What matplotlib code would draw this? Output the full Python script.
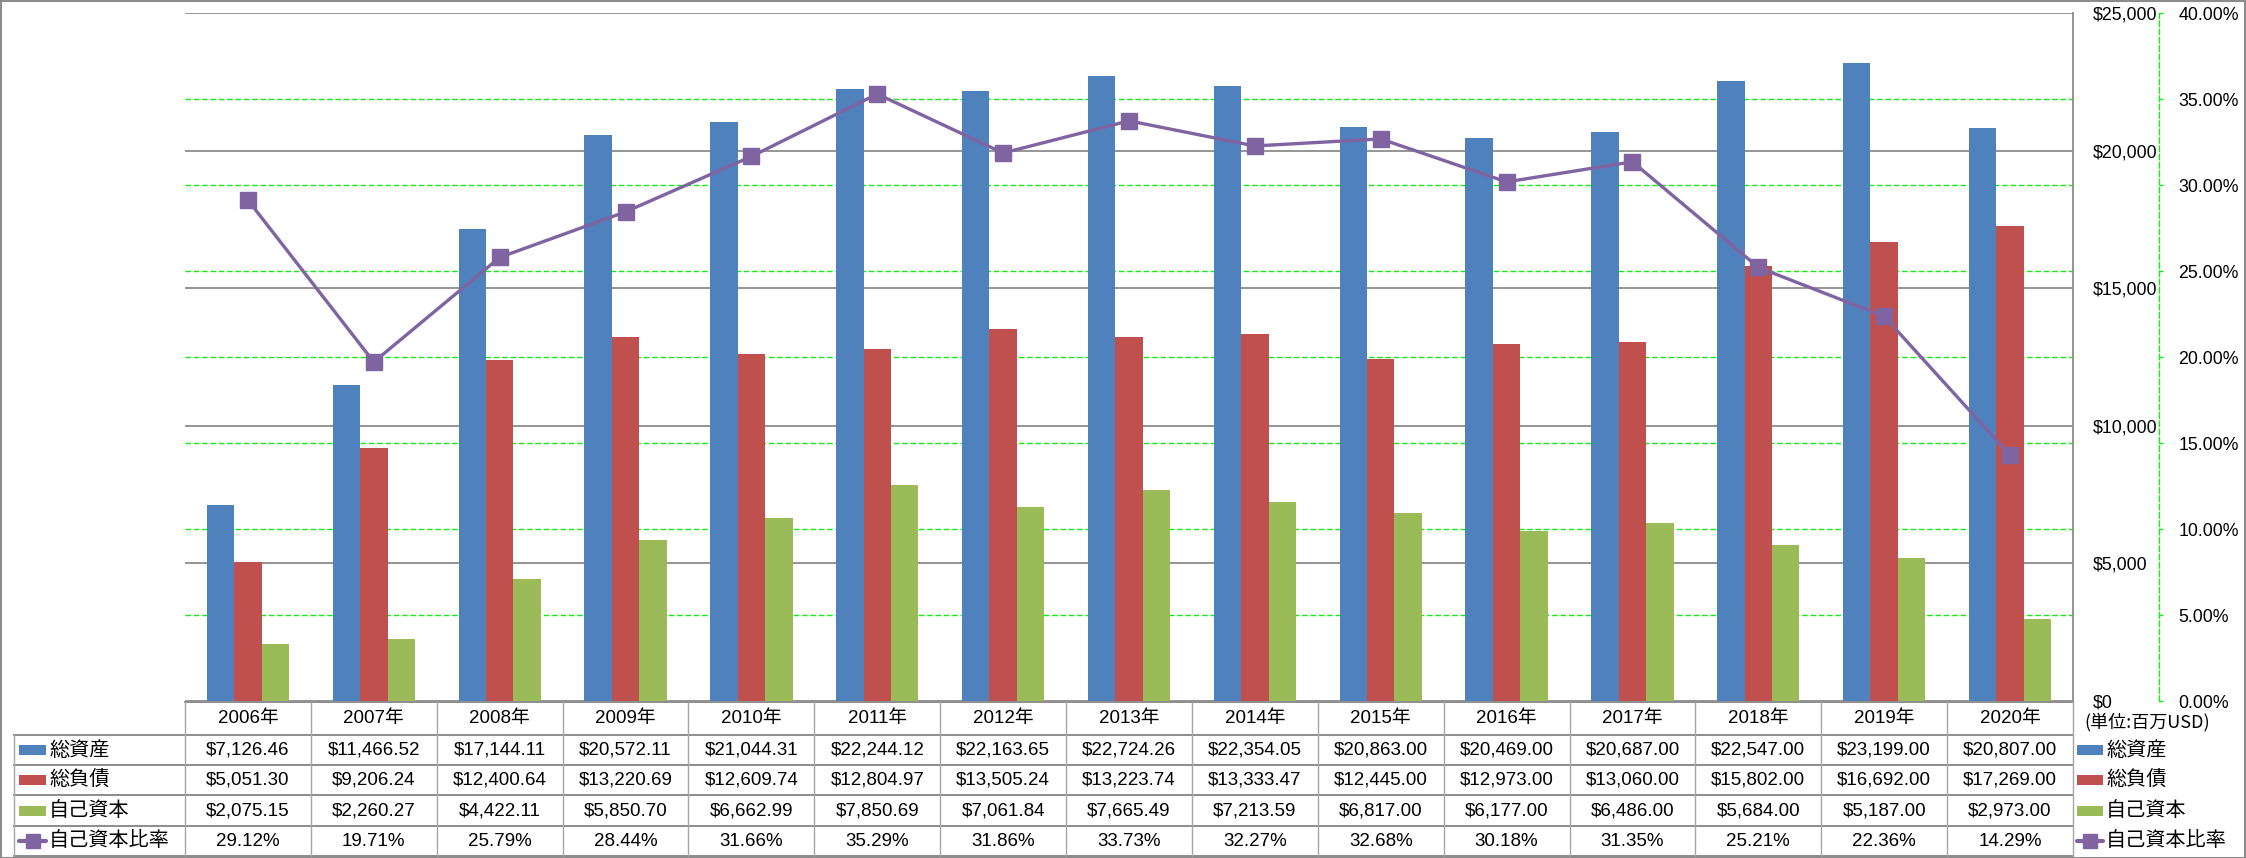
import matplotlib
matplotlib.use("Agg")
import matplotlib.pyplot as plt
import matplotlib.transforms as mtransforms
from matplotlib.lines import Line2D
from matplotlib.patches import Rectangle
from matplotlib.ticker import FuncFormatter
import numpy as np

# ---------------- data ----------------
years = ["2006年", "2007年", "2008年", "2009年", "2010年", "2011年", "2012年", "2013年",
         "2014年", "2015年", "2016年", "2017年", "2018年", "2019年", "2020年"]
total_assets = [7126.46, 11466.52, 17144.11, 20572.11, 21044.31, 22244.12, 22163.65, 22724.26,
                22354.05, 20863.00, 20469.00, 20687.00, 22547.00, 23199.00, 20807.00]
total_liabilities = [5051.30, 9206.24, 12400.64, 13220.69, 12609.74, 12804.97, 13505.24, 13223.74,
                     13333.47, 12445.00, 12973.00, 13060.00, 15802.00, 16692.00, 17269.00]
equity = [2075.15, 2260.27, 4422.11, 5850.70, 6662.99, 7850.69, 7061.84, 7665.49,
          7213.59, 6817.00, 6177.00, 6486.00, 5684.00, 5187.00, 2973.00]
equity_ratio = [29.12, 19.71, 25.79, 28.44, 31.66, 35.29, 31.86, 33.73,
                32.27, 32.68, 30.18, 31.35, 25.21, 22.36, 14.29]
series_names = ["総資産", "総負債", "自己資本", "自己資本比率"]
usd_ticks = [0, 5000, 10000, 15000, 20000, 25000]
pct_ticks = [0.0, 0.05, 0.10, 0.15, 0.20, 0.25, 0.30, 0.35, 0.40]
unit_label = "(単位:百万USD)"

# ---------------- style ----------------
BLUE, RED, GREEN, PURPLE = "#4F81BD", "#C0504D", "#9BBB59", "#8064A2"
GRID_GRAY = "#8C8C8C"
LIME = "#11EE11"
NUM_FONT = ["Liberation Sans Narrow", "Liberation Sans", "Noto Sans CJK JP"]
AX_FONT = ["Liberation Sans", "DejaVu Sans"]
JP_FONT = ["Noto Sans CJK JP", "DejaVu Sans"]

W, H = 2246, 858
fig = plt.figure(figsize=(W / 100, H / 100), dpi=100)
fig.patch.set_facecolor("white")


def fx(px):
    return px / W


def fy(py):
    return 1 - py / H


L, R, T, B = 185, 2073, 13, 701
ax = fig.add_axes([fx(L), fy(B), fx(R) - fx(L), fy(T) - fy(B)])
ax2 = ax.twinx()

x = np.arange(len(years))
w = 0.218
ax.bar(x - w, total_assets, w, color=BLUE, zorder=2, label=series_names[0])
ax.bar(x, total_liabilities, w, color=RED, zorder=2, label=series_names[1])
ax.bar(x + w, equity, w, color=GREEN, zorder=2, label=series_names[2])

ax.set_xlim(-0.5, len(years) - 0.5)
ax.set_ylim(usd_ticks[0], usd_ticks[-1])
ax.set_yticks(usd_ticks)
ax.yaxis.set_major_formatter(FuncFormatter(lambda v, p: f"${v:,.0f}"))
ax.set_xticks([])
ax.set_axisbelow(True)
ax.yaxis.grid(True, color=GRID_GRAY, lw=1.3, zorder=0.5)
for s in ["left", "top", "bottom"]:
    ax.spines[s].set_visible(False)
ax.spines["right"].set_color(GRID_GRAY)
ax.spines["right"].set_linewidth(1.3)
ax.yaxis.tick_right()
ax.tick_params(axis="y", length=0, pad=14.4, labelsize=12.8, labelcolor="black")
for lab in ax.get_yticklabels():
    lab.set_fontfamily(AX_FONT)

# secondary (percent) axis
ax2.set_ylim(pct_ticks[0], pct_ticks[-1])
ax2.set_yticks(pct_ticks)
ax2.yaxis.set_major_formatter(FuncFormatter(lambda v, p: f"{v * 100:.2f}%"))
ax2.set_xticks([])
for s in ["left", "top", "bottom"]:
    ax2.spines[s].set_visible(False)
ax2.spines["right"].set_position(("outward", 86 * 0.72))
ax2.spines["right"].set_color(LIME)
ax2.spines["right"].set_linestyle((0, (4, 2)))
ax2.spines["right"].set_linewidth(1.0)
ax2.tick_params(axis="y", length=3, width=1, color=LIME, pad=11, labelsize=12.8)
for lab in ax2.get_yticklabels():
    lab.set_fontfamily(AX_FONT)

# green dashed gridlines for the percent axis, drawn behind the bars
blend = mtransforms.blended_transform_factory(ax.transAxes, ax2.transData)
for p in pct_ticks[1:-1]:
    ax.add_line(Line2D([0, 1], [p, p], transform=blend, color=LIME, lw=1.0,
                       ls=(0, (4, 2)), zorder=1))

ax2.plot(x, np.array(equity_ratio) / 100, color=PURPLE, lw=2.4, marker="s", ms=12,
         mfc=PURPLE, mec=PURPLE, solid_joinstyle="round", zorder=3)

# ---------------- data table ----------------
row_edges = [702, 735, 765, 795, 826, 856]
centers = [(row_edges[i] + row_edges[i + 1]) / 2 for i in range(5)]
tx = mtransforms.blended_transform_factory(ax.transData, fig.transFigure)
TL = 14
line_kw = dict(color=GRID_GRAY, lw=1.4)

fig.add_artist(Line2D([fx(L), fx(R)], [fy(row_edges[0])] * 2, transform=fig.transFigure, **line_kw))
for e in row_edges[1:]:
    fig.add_artist(Line2D([fx(TL), fx(R)], [fy(e)] * 2, transform=fig.transFigure, **line_kw))
for i in range(len(years) + 1):
    fig.add_artist(Line2D([i - 0.5, i - 0.5], [fy(row_edges[0]), fy(row_edges[-1])],
                          transform=tx, color="#A6A6A6", lw=1.0))
fig.add_artist(Line2D([fx(TL), fx(TL)], [fy(row_edges[1]), fy(row_edges[-1])],
                      transform=fig.transFigure, color="#A6A6A6", lw=1.0))

rows = [
    [f"${v:,.2f}" for v in total_assets],
    [f"${v:,.2f}" for v in total_liabilities],
    [f"${v:,.2f}" for v in equity],
    [f"{v:.2f}%" for v in equity_ratio],
]
for i, yl in enumerate(years):
    fig.text(i, fy(centers[0]), yl, transform=tx, ha="center", va="center",
             fontsize=13.5, family=NUM_FONT)
    for r, vals in enumerate(rows):
        fig.text(i, fy(centers[r + 1]), vals[i], transform=tx, ha="center", va="center",
                 fontsize=13.5, family=NUM_FONT)

colors = [BLUE, RED, GREEN]


def key(xl, yc, idx, sw_w):
    if idx < 3:
        fig.add_artist(Rectangle((fx(xl), fy(yc + 5)), sw_w / W, 10 / H,
                                 transform=fig.transFigure, color=colors[idx], lw=0))
    else:
        fig.add_artist(Line2D([fx(xl), fx(xl + sw_w)], [fy(yc)] * 2, transform=fig.transFigure,
                              color=PURPLE, lw=3.0, solid_capstyle="round"))
        fig.add_artist(Line2D([fx(xl + sw_w / 2)], [fy(yc)], transform=fig.transFigure,
                              color=PURPLE, marker="s", ms=10.5, lw=0))
    fig.text(fx(xl + sw_w + 3), fy(yc), series_names[idx], ha="left", va="center",
             fontsize=14.5, family=JP_FONT)


for r in range(4):
    key(19, centers[r + 1], r, 27)

fig.text(fx(2084), fy(722), unit_label, ha="left", va="center", fontsize=13, family=JP_FONT)
for r in range(4):
    key(2077, centers[r + 1], r, 26)

fig.add_artist(Rectangle((0.5 / W, 0.5 / H), 1 - 1.5 / W, 1 - 1.5 / H, transform=fig.transFigure,
                         fill=False, ec="#8C8C8C", lw=1.5))

fig.savefig("out.png", dpi=100, facecolor="white")
